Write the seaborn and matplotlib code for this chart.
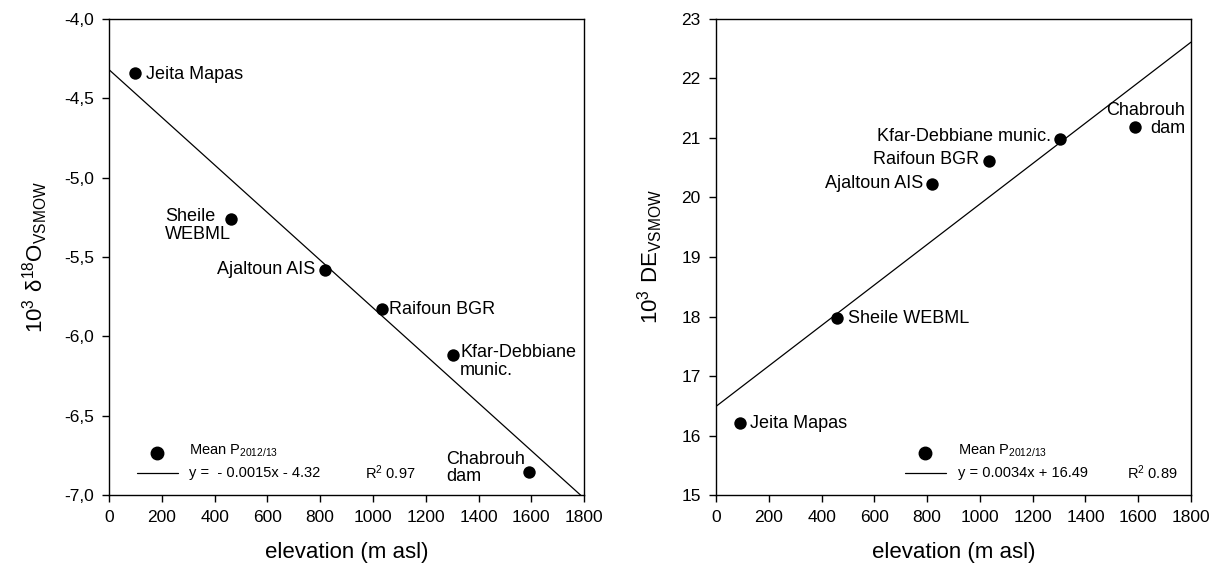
import matplotlib
matplotlib.use("Agg")
import matplotlib.pyplot as plt
import numpy as np
import pandas as pd
import seaborn as sns

# Sampling sites and their elevation (m asl)
sites = ["Jeita Mapas", "Sheile WEBML", "Ajaltoun AIS", "Raifoun BGR",
         "Kfar-Debbiane munic.", "Chabrouh dam"]
elev_o18 = [97, 462, 818, 1035, 1304, 1592]
d18o = [-4.34, -5.26, -5.58, -5.83, -6.12, -6.855]
elev_dex = [92, 459, 819, 1035, 1304, 1588]
dexcess = [16.21, 17.97, 20.23, 20.61, 20.98, 21.18]

# Regression fits
o18_slope, o18_icpt, o18_r2 = -0.0015, -4.32, 0.97
dex_slope, dex_icpt, dex_r2 = 0.0034, 16.49, 0.89

x_ticks = [0, 200, 400, 600, 800, 1000, 1200, 1400, 1600, 1800]
o18_ticks = [-7.0, -6.5, -6.0, -5.5, -5.0, -4.5, -4.0]
o18_ticklabels = ["-7,0", "-6,5", "-6,0", "-5,5", "-5,0", "-4,5", "-4,0"]
dex_ticks = [15, 16, 17, 18, 19, 20, 21, 22, 23]

sns.set_theme(style="ticks")
plt.rcParams["font.family"] = ["Liberation Sans", "DejaVu Sans"]
plt.rcParams.update({
    "axes.linewidth": 1.0,
    "xtick.major.width": 1.0, "ytick.major.width": 1.0,
    "xtick.major.size": 5, "ytick.major.size": 5,
    "xtick.direction": "out", "ytick.direction": "out",
    "axes.edgecolor": "black",
    "xtick.color": "black", "ytick.color": "black",
    "xtick.labelcolor": "black", "ytick.labelcolor": "black",
    "text.color": "black", "axes.labelcolor": "black",
})

fig = plt.figure(figsize=(12.13, 5.73), dpi=100)
ax1 = fig.add_axes([0.0899, 0.136, 0.3916, 0.831])
ax2 = fig.add_axes([0.5903, 0.136, 0.3916, 0.831])

df1 = pd.DataFrame({"site": sites, "elev": elev_o18, "val": d18o})
df2 = pd.DataFrame({"site": sites, "elev": elev_dex, "val": dexcess})

xl = np.array([0, 1800])

def draw_panel(ax, df, slope, icpt):
    sns.lineplot(x=xl, y=slope * xl + icpt, ax=ax, color="black", lw=0.9)
    sns.scatterplot(data=df, x="elev", y="val", ax=ax, color="black",
                    s=80, edgecolor="black", linewidth=0, zorder=3)
    ax.set_xlim(0, 1800)
    ax.set_xticks(x_ticks)
    ax.set_xlabel("elevation (m asl)", fontsize=16, labelpad=12)
    ax.tick_params(labelsize=12.5, pad=6)
    for s in ax.spines.values():
        s.set_visible(True)

draw_panel(ax1, df1, o18_slope, o18_icpt)
ax1.set_ylim(-7.0, -4.0)
ax1.set_yticks(o18_ticks)
ax1.set_yticklabels(o18_ticklabels)
ax1.set_ylabel(r"$\mathregular{10^3\ δ^{18}O_{VSMOW}}$", fontsize=16, labelpad=10)

draw_panel(ax2, df2, dex_slope, dex_icpt)
ax2.set_ylim(15, 23)
ax2.set_yticks(dex_ticks)
ax2.set_ylabel(r"$\mathregular{10^3\ DE_{VSMOW}}$", fontsize=16, labelpad=12)

lab_fs = 13

def label(ax, x, y, text, dx, dy, ha="left", va="center", ma="left"):
    ax.annotate(text, (x, y), xytext=(dx, dy), textcoords="offset pixels",
                ha=ha, va=va, multialignment=ma, fontsize=lab_fs,
                linespacing=1.05)

# Site labels, left panel
label(ax1, elev_o18[0], d18o[0], sites[0], 11, -2)
label(ax1, elev_o18[1], d18o[1], "Sheile\nWEBML", -66, 11, va="top")
label(ax1, elev_o18[2], d18o[2], sites[2], -10, 0, ha="right")
label(ax1, elev_o18[3], d18o[3], sites[3], 7, 0)
label(ax1, elev_o18[4], d18o[4], "Kfar-Debbiane\nmunic.", 7, 11, va="top")
label(ax1, elev_o18[5], d18o[5], "Chabrouh\ndam", -83, 4)

# Site labels, right panel
label(ax2, elev_dex[0], dexcess[0], sites[0], 10, 0)
label(ax2, elev_dex[1], dexcess[1], sites[1], 11, 0)
label(ax2, elev_dex[2], dexcess[2], sites[2], -9, 0, ha="right")
label(ax2, elev_dex[3], dexcess[3], sites[3], -10, 2, ha="right")
label(ax2, elev_dex[4], dexcess[4], sites[4], -9, 3, ha="right")
label(ax2, elev_dex[5], dexcess[5], "Chabrouh\ndam", 50, 8, ha="right", ma="right")

# Key boxes in the lower part of each panel
def key(ax, dot_x, line_x0, line_x1, text_x, r2_x, eq, r2):
    ax.plot([dot_x], [0.088], "o", color="black", ms=9, transform=ax.transAxes,
            clip_on=False)
    ax.plot([line_x0, line_x1], [0.046, 0.046], color="black", lw=0.9,
            transform=ax.transAxes)
    ax.text(text_x, 0.092, r"Mean $\mathregular{P_{2012/13}}$", fontsize=10.5,
            transform=ax.transAxes, va="center", ha="left")
    ax.text(text_x, 0.046, eq, fontsize=10.5, transform=ax.transAxes,
            va="center", ha="left")
    ax.text(r2_x, 0.046, r"$\mathregular{R^2}$ " + f"{r2:.2f}", fontsize=10.5,
            transform=ax.transAxes, va="center", ha="left")

key(ax1, 0.101, 0.059, 0.145, 0.168, 0.539,
    f"y =  - {abs(o18_slope):.4f}x - {abs(o18_icpt):.2f}", o18_r2)
key(ax2, 0.44, 0.398, 0.484, 0.509, 0.865,
    f"y = {dex_slope:.4f}x + {dex_icpt:.2f}", dex_r2)

fig.savefig("out.png", dpi=100)
